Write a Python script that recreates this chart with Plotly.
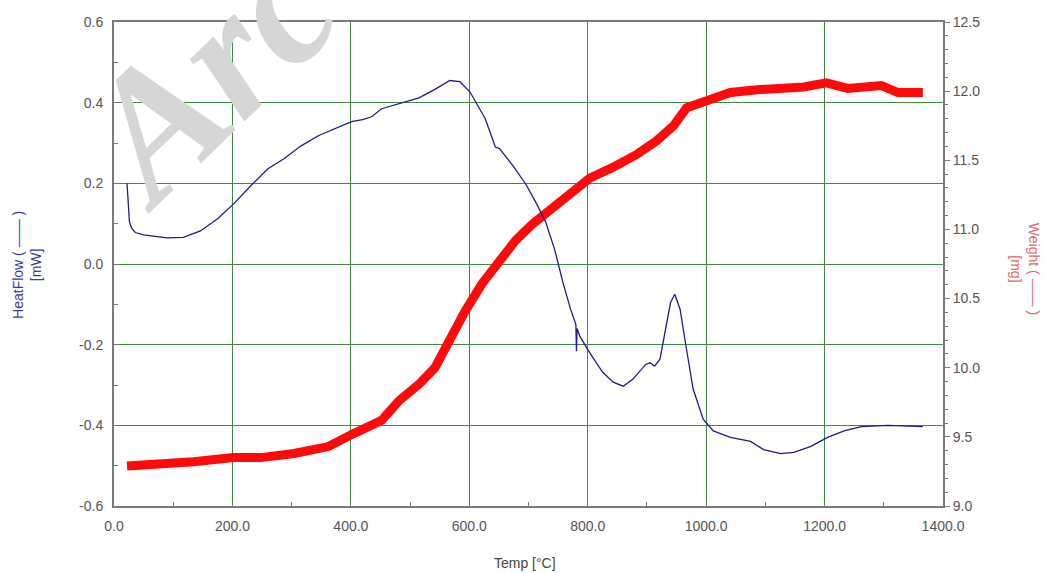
import plotly.graph_objects as go

# HeatFlow (mW) vs temperature
hf_temp = [22, 24, 26, 30, 36, 50, 70, 90, 117, 146, 175, 202, 231, 260, 287, 316, 345, 372,
           401, 420, 435, 452, 486, 515, 542, 567, 584, 601, 627, 644, 651, 673, 695, 712, 729,
           744, 758, 771, 780, 781, 782, 787, 803, 825, 843, 860, 876, 898, 905, 913, 922, 932,
           940, 947, 956, 964, 978, 995, 1012, 1041, 1075, 1097, 1126, 1148, 1177, 1205, 1233,
           1262, 1307, 1366]
hf_val = [0.200, 0.150, 0.105, 0.088, 0.078, 0.072, 0.068, 0.065, 0.066, 0.082, 0.112, 0.149,
          0.194, 0.236, 0.261, 0.293, 0.318, 0.335, 0.353, 0.358, 0.365, 0.385, 0.400, 0.412,
          0.433, 0.455, 0.452, 0.427, 0.360, 0.290, 0.286, 0.245, 0.199, 0.154, 0.104, 0.037,
          -0.045, -0.112, -0.150, -0.216, -0.160, -0.180, -0.219, -0.268, -0.293, -0.303, -0.286,
          -0.249, -0.245, -0.253, -0.236, -0.154, -0.095, -0.075, -0.112, -0.186, -0.310, -0.385,
          -0.414, -0.430, -0.440, -0.460, -0.470, -0.467, -0.452, -0.430, -0.414, -0.403, -0.400,
          -0.403]

# Weight (mg) vs temperature
w_temp = [22, 78, 134, 202, 248, 304, 362, 403, 435, 452, 481, 515, 542, 566, 593, 622, 651,
          678, 707, 736, 763, 792, 803, 843, 882, 916, 945, 967, 1003, 1041, 1086, 1126, 1165,
          1203, 1239, 1296, 1324, 1366]
w_val = [9.29, 9.30, 9.32, 9.35, 9.35, 9.38, 9.43, 9.52, 9.58, 9.62, 9.76, 9.88, 10.00, 10.20,
         10.41, 10.61, 10.78, 10.92, 11.04, 11.14, 11.22, 11.32, 11.37, 11.45, 11.54, 11.64,
         11.75, 11.88, 11.93, 11.99, 12.01, 12.02, 12.03, 12.06, 12.02, 12.04, 11.99, 11.99]

x_ticks = [0, 200, 400, 600, 800, 1000, 1200, 1400]
x_ticklabels = ["0.0", "200.0", "400.0", "600.0", "800.0", "1000.0", "1200.0", "1400.0"]
hf_ticks = [-0.6, -0.4, -0.2, 0.0, 0.2, 0.4, 0.6]
hf_ticklabels = ["-0.6", "-0.4", "-0.2", "0.0", "0.2", "0.4", "0.6"]
w_ticks = [9.0, 9.5, 10.0, 10.5, 11.0, 11.5, 12.0, 12.5]
w_ticklabels = ["9.0", "9.5", "10.0", "10.5", "11.0", "11.5", "12.0", "12.5"]

GRID = "#3f8a3f"
BORDER = "#7a7a7a"
TICKFONT = dict(family="Liberation Sans, Arial, sans-serif", size=14, color="#555555")

fig = go.Figure()
fig.add_trace(go.Scatter(x=w_temp, y=w_val, mode="lines", yaxis="y",
                         line=dict(color="#ff0a0a", width=9), showlegend=False))
fig.add_trace(go.Scatter(x=hf_temp, y=hf_val, mode="lines", yaxis="y2",
                         line=dict(color="#1c1c8a", width=1.3), showlegend=False))

fig.update_layout(
    width=1044, height=573,
    margin=dict(l=114, r=101, t=22, b=67, autoexpand=False),
    paper_bgcolor="white", plot_bgcolor="white",
    xaxis=dict(range=[0, 1400], tickvals=x_ticks, ticktext=x_ticklabels,
               showgrid=True, gridcolor=GRID, gridwidth=1, zeroline=False,
               showline=True, linecolor=BORDER, linewidth=2, mirror=True,
               ticks="inside", ticklen=4, tickcolor=BORDER,
               minor=dict(dtick=100, ticks="inside", ticklen=4, tickcolor=BORDER, showgrid=False),
               tickfont=TICKFONT, ticklabelstandoff=6, automargin=False),
    yaxis=dict(range=[9.0, 12.5], tickvals=w_ticks, ticktext=w_ticklabels, side="right",
               showgrid=False, zeroline=False, showline=True, linecolor=BORDER, linewidth=2,
               ticks="outside", ticklen=5, tickcolor=BORDER,
               minor=dict(dtick=0.1, ticks="outside", ticklen=3, tickcolor=BORDER),
               tickfont=TICKFONT, automargin=False),
    yaxis2=dict(range=[-0.6, 0.6], tickvals=hf_ticks, ticktext=hf_ticklabels, side="left",
                overlaying="y", showgrid=True, gridcolor=GRID, gridwidth=1, zeroline=False,
                showline=True, linecolor=BORDER, linewidth=2,
                ticks="inside", ticklen=4, tickcolor=BORDER,
                minor=dict(dtick=0.1, ticks="inside", ticklen=4, tickcolor=BORDER, showgrid=False),
                tickfont=TICKFONT, ticklabelstandoff=6, automargin=False),
)

fig.add_annotation(text="Temp [°C]", xref="paper", yref="paper", x=0.496, y=-0.118,
                   showarrow=False, xanchor="center", yanchor="middle",
                   font=dict(family="Liberation Sans, Arial, sans-serif", size=14, color="#444444"))
fig.add_annotation(text="HeatFlow ( —— )<br>[mW]", xref="paper", yref="paper", x=-0.105, y=0.498,
                   showarrow=False, textangle=-90, xanchor="center", yanchor="middle",
                   font=dict(family="Liberation Sans, Arial, sans-serif", size=14, color="#3c3c9c"))
fig.add_annotation(text="Weight ( —— )<br>[mg]", xref="paper", yref="paper", x=1.099, y=0.49,
                   showarrow=False, textangle=90, xanchor="center", yanchor="middle",
                   font=dict(family="Liberation Sans, Arial, sans-serif", size=14, color="#e06a6a"))
fig.add_annotation(text="<b><i>Arc</i></b>", xref="paper", yref="paper", x=0.112, y=0.893,
                   showarrow=False, textangle=-44, xanchor="center", yanchor="middle",
                   font=dict(family="Liberation Serif, serif", size=180, color="#d6d6d6"))

fig.write_html("out.html", config={"displayModeBar": False},
               post_script="document.body.style.margin='0';document.body.style.overflow='hidden';")
